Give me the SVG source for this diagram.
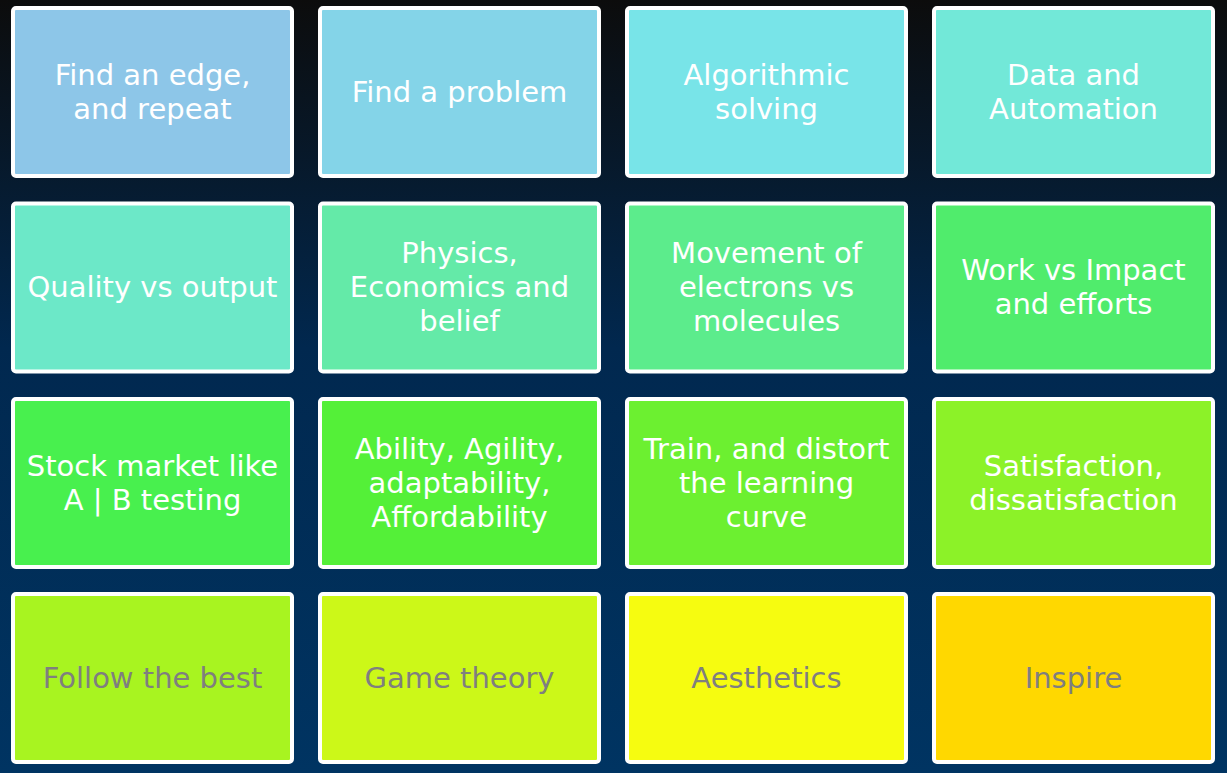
<svg xmlns="http://www.w3.org/2000/svg" width="1227" height="773" viewBox="0 0 1227 773">
<defs>
<linearGradient id="bg" x1="0" y1="0" x2="0" y2="1">
<stop offset="0" stop-color="#0c0c0c"/>
<stop offset="0.45" stop-color="#01284f"/>
<stop offset="1" stop-color="#003462"/>
</linearGradient>
</defs>
<style>
.box{stroke:#ffffff;stroke-width:4}
text{font-family:"DejaVu Sans",sans-serif;font-size:29px;text-anchor:middle}
.w{fill:#ffffff}
.g{fill:#7f7f7f}
</style>
<rect x="0" y="0" width="1227" height="773" fill="url(#bg)"/>
<g id="n1"><rect class="box" x="13" y="8" width="279" height="168" rx="3" fill="#8dc6e8"/><text class="w" x="152.5"><tspan x="152.5" y="84.5">Find an edge,</tspan><tspan x="152.5" y="118.5">and repeat</tspan></text></g>
<g id="n2"><rect class="box" x="320" y="8" width="279" height="168" rx="3" fill="#84d4e8"/><text class="w"><tspan x="459.5" y="101.5">Find a problem</tspan></text></g>
<g id="n3"><rect class="box" x="627" y="8" width="279" height="168" rx="3" fill="#78e4e8"/><text class="w"><tspan x="766.5" y="84.5">Algorithmic</tspan><tspan x="766.5" y="118.5">solving</tspan></text></g>
<g id="n4"><rect class="box" x="934" y="8" width="279" height="168" rx="3" fill="#72e8d8"/><text class="w"><tspan x="1073.5" y="84.5">Data and</tspan><tspan x="1073.5" y="118.5">Automation</tspan></text></g>
<g id="n5"><rect class="box" x="13" y="203.5" width="279" height="168" rx="3" fill="#6ce8c8"/><text class="w"><tspan x="152.5" y="297">Quality vs output</tspan></text></g>
<g id="n6"><rect class="box" x="320" y="203.5" width="279" height="168" rx="3" fill="#64eaa8"/><text class="w"><tspan x="459.5" y="263">Physics,</tspan><tspan x="459.5" y="297">Economics and</tspan><tspan x="459.5" y="331">belief</tspan></text></g>
<g id="n7"><rect class="box" x="627" y="203.5" width="279" height="168" rx="3" fill="#5cec8c"/><text class="w"><tspan x="766.5" y="263">Movement of</tspan><tspan x="766.5" y="297">electrons vs</tspan><tspan x="766.5" y="331">molecules</tspan></text></g>
<g id="n8"><rect class="box" x="934" y="203.5" width="279" height="168" rx="3" fill="#50ec6c"/><text class="w"><tspan x="1073.5" y="280">Work vs Impact</tspan><tspan x="1073.5" y="314">and efforts</tspan></text></g>
<g id="n9"><rect class="box" x="13" y="399" width="279" height="168" rx="3" fill="#48f04e"/><text class="w"><tspan x="152.5" y="475.5">Stock market like</tspan><tspan x="152.5" y="509.5">A | B testing</tspan></text></g>
<g id="n10"><rect class="box" x="320" y="399" width="279" height="168" rx="3" fill="#54f038"/><text class="w"><tspan x="459.5" y="458.5">Ability, Agility,</tspan><tspan x="459.5" y="492.5">adaptability,</tspan><tspan x="459.5" y="526.5">Affordability</tspan></text></g>
<g id="n11"><rect class="box" x="627" y="399" width="279" height="168" rx="3" fill="#6cf030"/><text class="w"><tspan x="766.5" y="458.5">Train, and distort</tspan><tspan x="766.5" y="492.5">the learning</tspan><tspan x="766.5" y="526.5">curve</tspan></text></g>
<g id="n12"><rect class="box" x="934" y="399" width="279" height="168" rx="3" fill="#8cf228"/><text class="w"><tspan x="1073.5" y="475.5">Satisfaction,</tspan><tspan x="1073.5" y="509.5">dissatisfaction</tspan></text></g>
<g id="n13"><rect class="box" x="13" y="594" width="279" height="168" rx="3" fill="#a8f420"/><text class="g"><tspan x="152.5" y="687.5">Follow the best</tspan></text></g>
<g id="n14"><rect class="box" x="320" y="594" width="279" height="168" rx="3" fill="#ccf818"/><text class="g"><tspan x="459.5" y="687.5">Game theory</tspan></text></g>
<g id="n15"><rect class="box" x="627" y="594" width="279" height="168" rx="3" fill="#f6fc10"/><text class="g"><tspan x="766.5" y="687.5">Aesthetics</tspan></text></g>
<g id="n16"><rect class="box" x="934" y="594" width="279" height="168" rx="3" fill="#ffd800"/><text class="g"><tspan x="1073.5" y="687.5">Inspire</tspan></text></g>
</svg>
